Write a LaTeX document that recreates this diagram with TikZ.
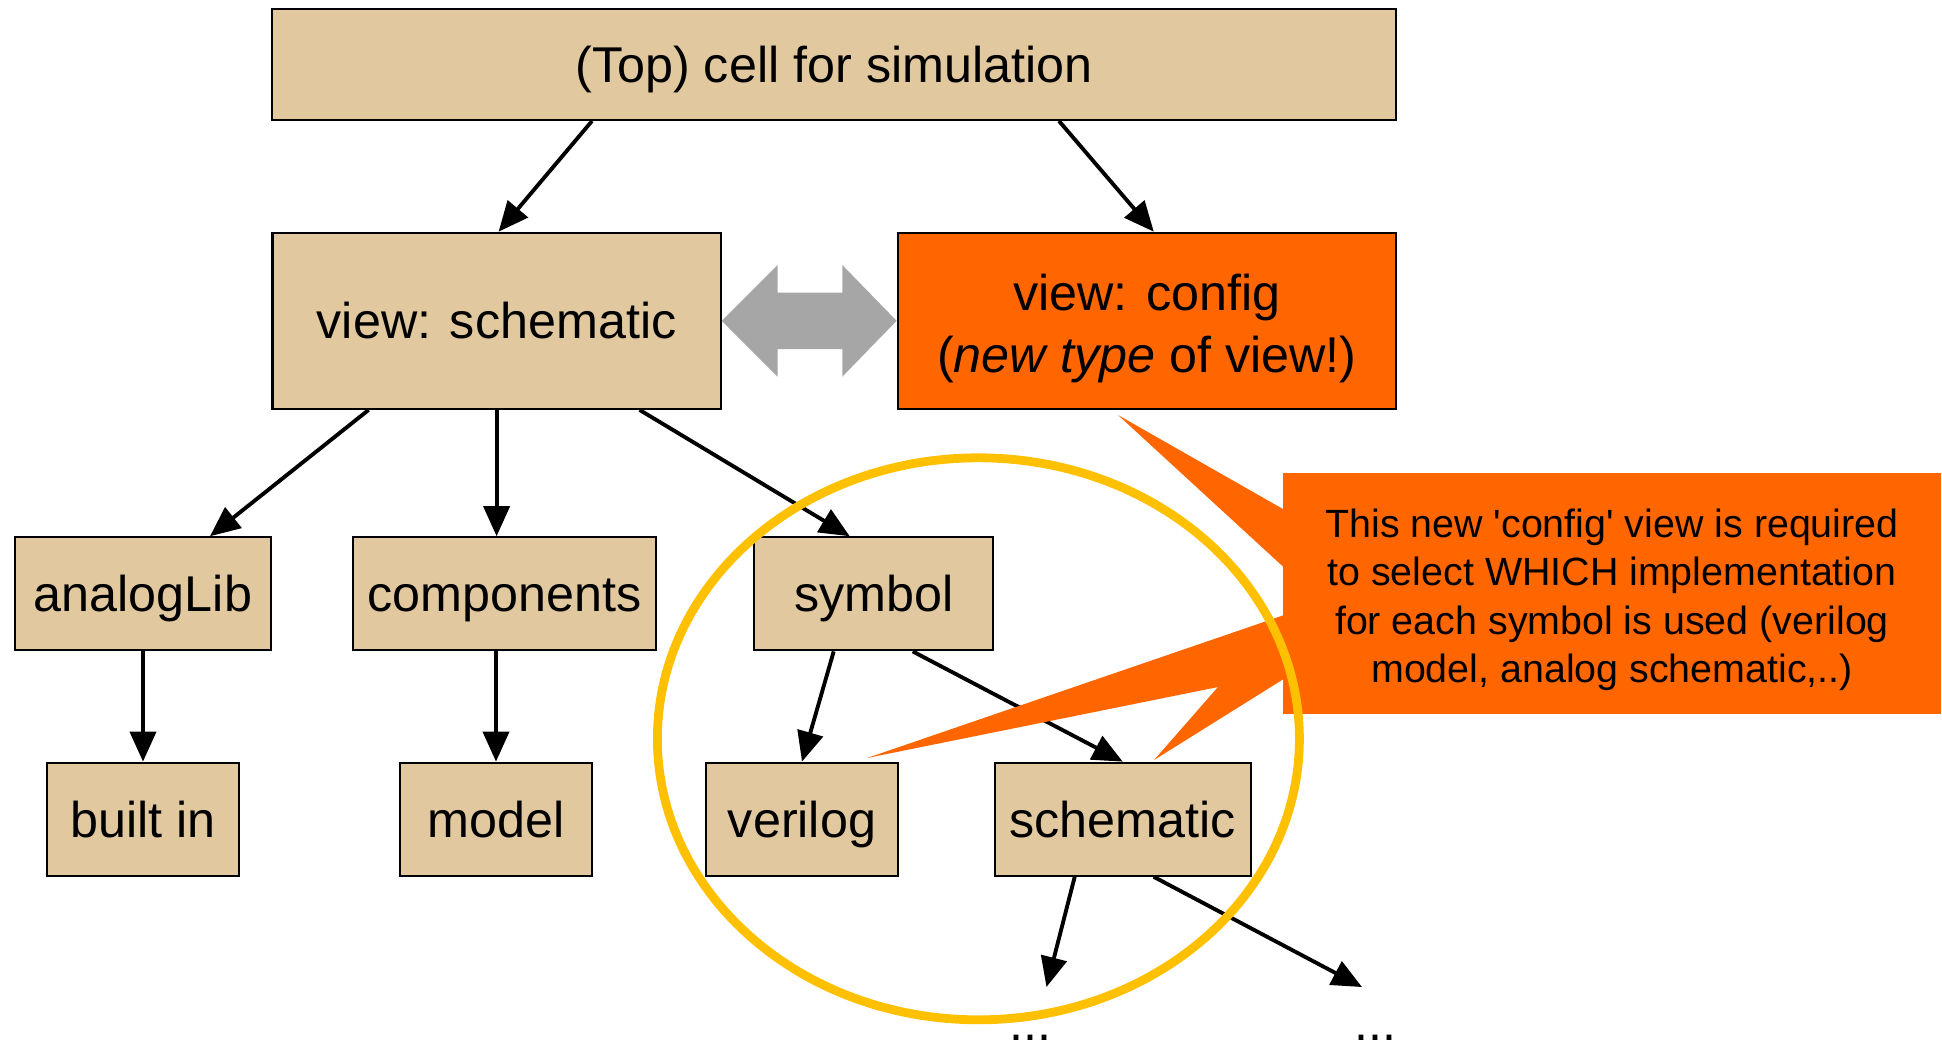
\documentclass[tikz,border=0pt]{standalone}
\usepackage{fontspec}
\setmainfont{Liberation Sans}
\usetikzlibrary{arrows.meta}
\definecolor{celltan}{HTML}{E1C89E}
\definecolor{cfgorange}{HTML}{FF6600}
\definecolor{ringyellow}{HTML}{FFC000}
\definecolor{swapgray}{HTML}{A6A6A6}

\begin{document}
\begin{tikzpicture}[x=0.01cm, y=-0.01cm, >={Triangle[length=3mm,width=2.6mm]},
    cell/.style={draw=black, line width=0.6pt, fill=celltan, inner sep=0pt,
                 font=\fontsize{14.3}{17.6}\selectfont, text height=10.24pt, text depth=0pt},
    link/.style={->, line width=1.1pt}]
        \useasboundingbox (0,0) rectangle (1942,1041);
        % top row
        \node[cell, minimum width=11.23cm, minimum height=1.11cm] (top) at (834,64.4) {(Top) cell for simulation};
        % views
        \node[cell, minimum width=4.48cm, minimum height=1.76cm] (sch) at (496.6,320.8) {view: schematic};
        \node[cell, fill=cfgorange, align=center, text height=, text depth=, minimum width=4.98cm, minimum height=1.76cm] (cfg) at (1146.8,320.8)
            {\rule{0pt}{14.6pt}view: config\\(\textit{new type} of view!)};
        % libraries
        \node[cell, minimum width=2.56cm, minimum height=1.13cm] (alib) at (143,593.8) {analogLib};
        \node[cell, minimum width=3.03cm, minimum height=1.13cm] (comp) at (504.7,593.8) {components};
        \node[cell, minimum width=2.39cm, minimum height=1.13cm] (sym) at (873.7,593.8) {symbol};
        % implementations
        \node[cell, minimum width=1.92cm, minimum height=1.13cm] (built) at (143,819.2) {built in};
        \node[cell, minimum width=1.92cm, minimum height=1.13cm] (model) at (496,819.2) {model};
        \node[cell, minimum width=1.92cm, minimum height=1.13cm] (ver) at (802,819.2) {verilog};
        \node[cell, minimum width=2.56cm, minimum height=1.13cm] (schim) at (1122.7,819.2) {schematic};
        % more below
        \node[font=\fontsize{14.3}{17.6}\selectfont, anchor=base] (more1) at (1030,1040) {...};
        \node[font=\fontsize{14.3}{17.6}\selectfont, anchor=base] (more2) at (1375,1040) {...};
        \coordinate (end1) at (1046.5,987);
        \coordinate (end2) at (1362,987);
        % connect top
        \draw[link] ([shift={(-242,0)}]top.south) -- ([shift={(2,0)}]sch.north);
        \draw[link] ([shift={(225,0)}]top.south) -- ([shift={(7,0)}]cfg.north);
        % connect schematic
        \draw[link] ([shift={(-128,0)}]sch.south) -- ([shift={(67,0)}]alib.north);
        \draw[link] (sch.south) -- (sch.south |- comp.north);
        \draw[link] ([shift={(143,0)}]sch.south) -- ([shift={(-24,0)}]sym.north);
        % connect libraries
        \draw[link] (alib.south) -- (built.north);
        \draw[link] (model.north |- comp.south) -- (model.north);
        \draw[link] ([shift={(-40,0)}]sym.south) -- (ver.north);
        \draw[link] ([shift={(39,0)}]sym.south) -- (schim.north);
        \draw[link] ([shift={(-48,0)}]schim.south) -- (end1);
        \draw[link] ([shift={(31,0)}]schim.south) -- (end2);
        % swap arrow
        \fill[swapgray] (sch.east |- 0,320.8) -- (777.7,265) -- (777.7,292.7) -- (842.3,292.7) -- (842.3,265)
            -- (cfg.west) -- (842.3,376.7) -- (842.3,349) -- (777.7,349) -- (777.7,376.7) -- cycle;
        % callout
        \node[fill=cfgorange, inner sep=0pt, minimum width=6.57cm, minimum height=2.41cm, align=center,
              font=\fontsize{11.2}{13.75}\selectfont] (note) at (1612,593.5)
              {\rule{0pt}{11.6pt}This new \textquotesingle config\textquotesingle\ view is required\\to select WHICH implementation\\for each symbol is used (verilog\\model, analog schematic,..)};
        \fill[cfgorange] (1118,415) -- (1290,513) -- (1290,573) -- cycle;
        \fill[cfgorange] (867,758) -- (1290,613) -- (1290,675) -- (1154,760) -- (1218,687) -- cycle;
        % ring round symbol
        \draw[ringyellow, line width=2.5pt] (978.4,738.8) ellipse [x radius=321, y radius=281];
    \end{tikzpicture}
\end{document}
